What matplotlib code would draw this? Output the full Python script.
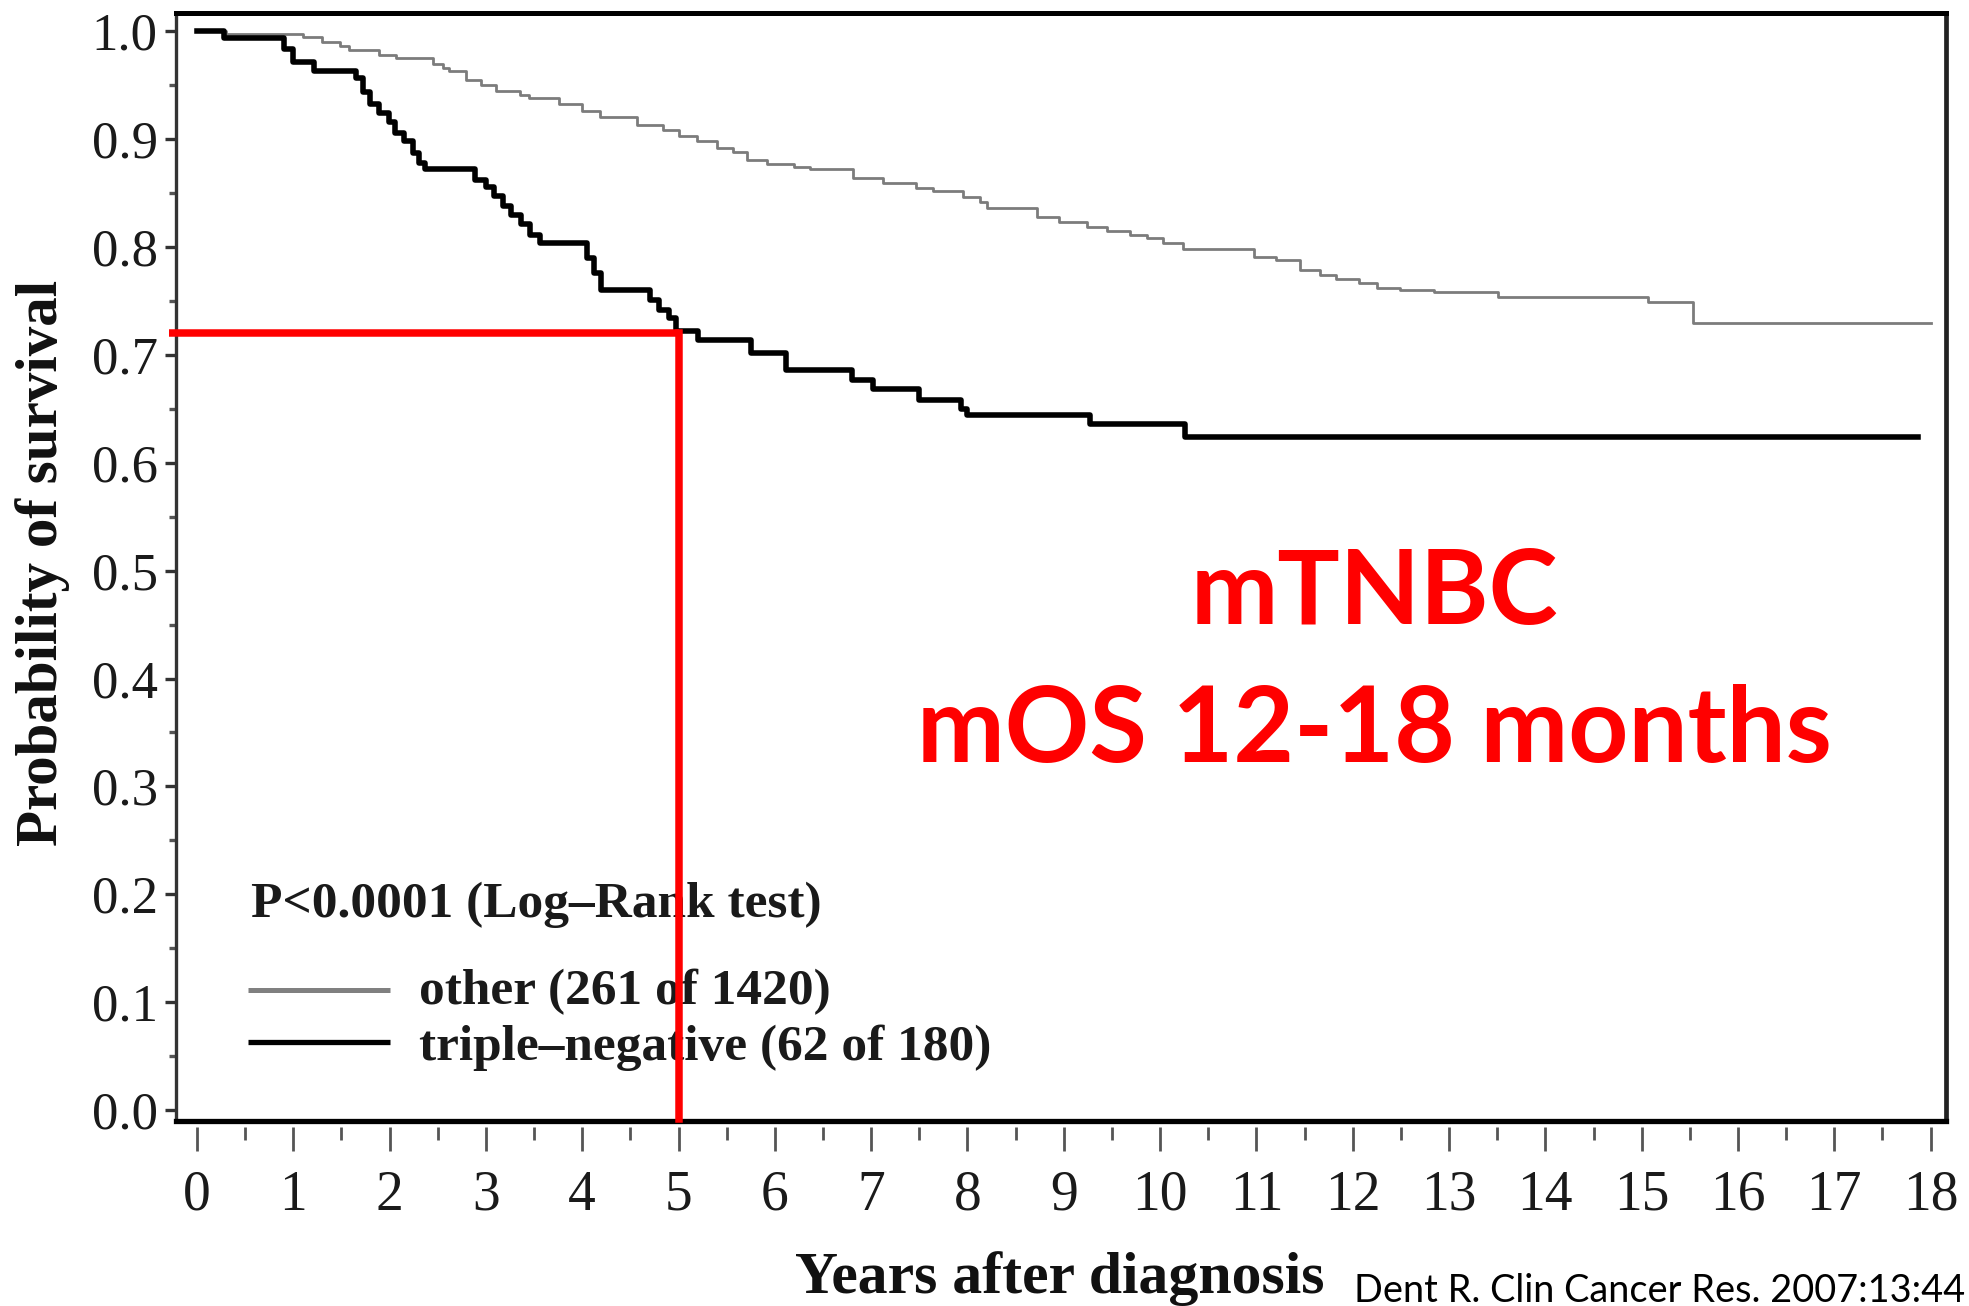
import matplotlib
matplotlib.use("Agg")
import matplotlib.pyplot as plt
from matplotlib.ticker import MultipleLocator

# ---- data ----
tn_time = [0.0, 0.28, 0.90, 1.00, 1.22, 1.65, 1.72, 1.80, 1.89, 1.99, 2.06, 2.15,
           2.24, 2.31, 2.37, 2.89, 3.00, 3.08, 3.18, 3.26, 3.36, 3.46, 3.56, 4.05,
           4.12, 4.20, 4.70, 4.80, 4.90, 4.97, 5.20, 5.75, 6.12, 6.80, 7.02, 7.50,
           7.93, 8.00, 9.27, 10.26, 17.87]
tn_surv = [1.000, 0.994, 0.984, 0.972, 0.963, 0.957, 0.944, 0.933, 0.924, 0.916, 0.906, 0.898,
           0.887, 0.878, 0.872, 0.862, 0.856, 0.847, 0.838, 0.830, 0.821, 0.811, 0.804, 0.790,
           0.776, 0.760, 0.751, 0.742, 0.734, 0.722, 0.714, 0.702, 0.686, 0.677, 0.668, 0.658,
           0.650, 0.644, 0.636, 0.624, 0.624]

other_time = [0.0, 0.30, 1.10, 1.30, 1.48, 1.58, 1.89, 2.07, 2.45, 2.55, 2.62, 2.79, 2.95,
              3.10, 3.35, 3.45, 3.76, 4.00, 4.18, 4.57, 4.84, 5.00, 5.19, 5.40, 5.57, 5.71,
              5.92, 6.20, 6.37, 6.81, 7.12, 7.47, 7.64, 7.95, 8.13, 8.20, 8.72, 8.95, 9.24,
              9.45, 9.69, 9.86, 10.03, 10.24, 10.97, 11.20, 11.45, 11.66, 11.83, 12.07, 12.25,
              12.49, 12.84, 13.51, 15.07, 15.53, 18.00]
other_surv = [1.000, 0.998, 0.995, 0.990, 0.986, 0.983, 0.978, 0.975, 0.970, 0.966, 0.963, 0.955, 0.950,
              0.945, 0.941, 0.938, 0.933, 0.926, 0.921, 0.913, 0.909, 0.903, 0.898, 0.892, 0.888, 0.881,
              0.877, 0.874, 0.872, 0.864, 0.859, 0.855, 0.852, 0.846, 0.842, 0.836, 0.828, 0.823, 0.819,
              0.815, 0.811, 0.808, 0.804, 0.798, 0.791, 0.788, 0.779, 0.774, 0.770, 0.767, 0.762,
              0.760, 0.758, 0.754, 0.749, 0.7295, 0.7295]

x_ticks = list(range(0, 19))
x_ticklabels = [str(v) for v in x_ticks]
y_ticks = [round(0.1 * i, 1) for i in range(11)]
y_ticklabels = [f"{v:.1f}" for v in y_ticks]

median_year = 5.0
median_surv = 0.72

legend_labels = ["other (261 of 1420)", "triple\u2013negative (62 of 180)"]
pvalue_text = "P<0.0001 (Log\u2013Rank test)"
red_title = "mTNBC"
red_subtitle = "mOS 12-18 months"
citation = "Dent R. Clin Cancer Res. 2007:13:44"

# ---- figure ----
W, H = 1969, 1306
fig = plt.figure(figsize=(W / 100, H / 100), dpi=100)
fig.patch.set_facecolor("white")
ax = fig.add_axes([175.8 / W, 1 - 1121.3 / H, (1946 - 175.8) / W, (1121.3 - 12.6) / H])

serif = ["Liberation Serif", "DejaVu Serif"]

ax.step(other_time, other_surv, where="post", color="#7c7c7c", lw=2.0, zorder=3)
ax.step(tn_time, tn_surv, where="post", color="black", lw=4.0, zorder=4)

ax.set_xlim(-0.22, 18.16)
ax.set_ylim(-0.0105, 1.0174)

# spines
ax.spines["left"].set_linewidth(2.4)
ax.spines["left"].set_color("#333333")
ax.spines["top"].set_linewidth(3.6)
ax.spines["top"].set_color("black")
ax.spines["right"].set_linewidth(3.4)
ax.spines["right"].set_color("#222222")
ax.spines["bottom"].set_position(("outward", 4))
ax.spines["bottom"].set_visible(False)
ax.plot([0, 1], [0, 0], transform=ax.transAxes, color="black", lw=3.8,
        clip_on=False, zorder=5, solid_capstyle="projecting")

ax.set_xticks(x_ticks)
ax.set_xticklabels(x_ticklabels, fontfamily=serif, fontsize=40, color="#1a1a1a")
ax.xaxis.set_minor_locator(MultipleLocator(0.5))
ax.tick_params(axis="x", which="major", direction="out", length=17, width=2.0,
               color="#555555", pad=14)
ax.tick_params(axis="x", which="minor", direction="out", length=9, width=2.0,
               color="#555555")

ax.set_yticks(y_ticks)
ax.set_yticklabels(y_ticklabels, fontfamily=serif, fontsize=38, color="#1a1a1a")
ax.yaxis.set_minor_locator(MultipleLocator(0.05))
ax.tick_params(axis="y", which="major", direction="out", length=8, width=2.4,
               color="#333333", pad=5)
ax.tick_params(axis="y", which="minor", direction="out", length=5, width=2.4,
               color="#555555")

ax.set_ylabel("Probability of survival", fontfamily=serif, fontweight="bold",
              fontsize=42.5, color="#111111")
ax.yaxis.set_label_coords(-0.060, 0.504)

fig.text(1060 / W, 1 - 1293 / H, "Years after diagnosis", fontfamily=serif,
         fontweight="bold", fontsize=43, ha="center", va="baseline", color="#111111")

# legend / annotation text inside the plot
ax.text(0.56, 0.179, pvalue_text, fontfamily=serif, fontweight="bold", fontsize=37,
        ha="left", va="baseline", color="#1a1a1a", zorder=6)
ax.plot([0.53, 2.0], [0.111, 0.111], color="#808080", lw=3.6, solid_capstyle="butt", zorder=6)
ax.plot([0.53, 2.0], [0.063, 0.063], color="black", lw=3.8, solid_capstyle="butt", zorder=6)
ax.text(2.30, 0.098, legend_labels[0], fontfamily=serif, fontweight="bold", fontsize=37,
        ha="left", va="baseline", color="#1a1a1a", zorder=6)
ax.text(2.30, 0.046, legend_labels[1], fontfamily=serif, fontweight="bold", fontsize=37,
        ha="left", va="baseline", color="#1a1a1a", zorder=6)

# red median lines
ax.plot([-0.29, median_year], [median_surv, median_surv], color="#ff0000", lw=5.4,
        solid_capstyle="butt", clip_on=False, zorder=10)
ax.plot([median_year, median_year], [median_surv, -0.008], color="#ff0000", lw=5.4,
        solid_capstyle="projecting", clip_on=False, zorder=10)

ax.text(12.23, 0.451, red_title, fontfamily=["Lato", "DejaVu Sans"], fontweight="bold",
        fontsize=75, color="#ff0000", ha="center", va="baseline", zorder=7)
ax.text(12.23, 0.323, red_subtitle, fontfamily=["Lato", "DejaVu Sans"], fontweight="bold",
        fontsize=75.5, color="#ff0000", ha="center", va="baseline", zorder=7)

fig.text(1965 / W, 4 / H, citation, fontfamily=["Lato", "DejaVu Sans"], fontsize=27.3,
         ha="right", va="baseline", color="black")

fig.savefig("out.png", dpi=100, facecolor="white")
